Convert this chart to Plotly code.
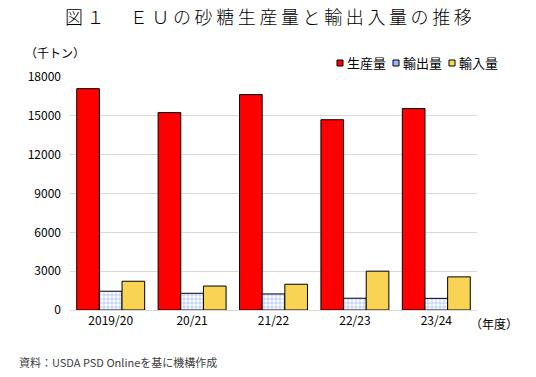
import plotly.graph_objects as go

years = ["2019/20", "20/21", "21/22", "22/23", "23/24"]
production = [17100, 15250, 16640, 14700, 15560]
exports = [1450, 1290, 1240, 910, 900]
imports = [2220, 1850, 1990, 3000, 2560]
series_names = ["生産量", "輸出量", "輸入量"]
y_ticks = [0, 3000, 6000, 9000, 12000, 15000, 18000]
y_tick_labels = ["0", "3000", "6000", "9000", "12000", "15000", "18000"]

JP = "Noto Sans CJK JP"
W, H = 536, 377
L, R, T, B = 70, 59, 77, 67
PW, PH = W - L - R, H - T - B


def px(x):
    return (x - L) / PW


def py(y):
    return (H - B - y) / PH


fig = go.Figure()
fig.add_trace(go.Bar(
    x=years, y=production, name=series_names[0],
    marker=dict(color="#ff0000", line=dict(color="#000000", width=1)),
))
fig.add_trace(go.Bar(
    x=years, y=exports, name=series_names[1],
    marker=dict(color="#ffffff", line=dict(color="#000000", width=1),
                pattern=dict(shape="+", fgcolor="#3a6cff", bgcolor="#ffffff",
                             size=4, solidity=0.3)),
))
fig.add_trace(go.Bar(
    x=years, y=imports, name=series_names[2],
    marker=dict(color="#ffd84d", line=dict(color="#000000", width=1),
                pattern=dict(shape=".", fgcolor="#f0b000", bgcolor="#ffe680",
                             size=2, solidity=0.7)),
))

title = "図１　ＥＵの砂糖生産量と輸出入量の推移"
title_spaced = "\u2009".join(title)

annotations = [
    dict(text=title_spaced, x=px(268), y=py(16), xref="paper", yref="paper",
         showarrow=False, xanchor="center", yanchor="middle",
         font=dict(family=JP, size=18, color="#000000", weight=300)),
    dict(text="（千トン）", x=px(23), y=py(53), xref="paper", yref="paper",
         showarrow=False, xanchor="left", yanchor="middle",
         font=dict(family=JP, size=12, color="#000000")),
    dict(text="（年度）", x=px(468), y=py(323), xref="paper", yref="paper",
         showarrow=False, xanchor="left", yanchor="middle",
         font=dict(family=JP, size=12, color="#000000")),
    dict(text="資料：USDA PSD Onlineを基に機構作成", x=px(17), y=py(362),
         xref="paper", yref="paper", showarrow=False, xanchor="left",
         yanchor="middle", font=dict(family=JP, size=11, color="#404040")),
]

# custom legend
leg_items = [
    (337, series_names[0], "#ff0000"),
    (393, series_names[1], "#9db8ff"),
    (449, series_names[2], "#ffd84d"),
]
shapes = []
for xs, name, col in leg_items:
    shapes.append(dict(type="rect", xref="paper", yref="paper",
                       x0=px(xs), x1=px(xs + 6), y0=py(66), y1=py(60),
                       fillcolor=col, line=dict(color="#000000", width=1)))
    annotations.append(dict(text=name, x=px(xs + 8), y=py(63), xref="paper",
                            yref="paper", showarrow=False, xanchor="left",
                            yanchor="middle",
                            font=dict(family=JP, size=13, color="#000000")))

fig.update_layout(
    width=W, height=H,
    margin=dict(l=L, r=R, t=T, b=B, pad=0),
    paper_bgcolor="#ffffff", plot_bgcolor="#ffffff",
    barmode="group", bargap=0.165, bargroupgap=0,
    showlegend=False,
    annotations=annotations, shapes=shapes,
    font=dict(family=JP, size=12, color="#000000"),
)
fig.update_yaxes(range=[0, 18000], tickvals=y_ticks, ticktext=y_tick_labels,
                 showgrid=True,
                 gridcolor="#d9d9d9", gridwidth=1, zeroline=False,
                 showline=False, ticks="", ticklabelstandoff=8,
                 tickfont=dict(family=JP, size=12, color="#000000"))
fig.update_xaxes(showline=True, linecolor="#d9d9d9", linewidth=1,
                 ticks="", showgrid=False,
                 tickfont=dict(family=JP, size=12, color="#000000"))

fig.write_html(
    "out.html",
    config={"displayModeBar": False},
    post_script="document.body.style.margin='0';document.body.style.overflow='hidden';",
)
